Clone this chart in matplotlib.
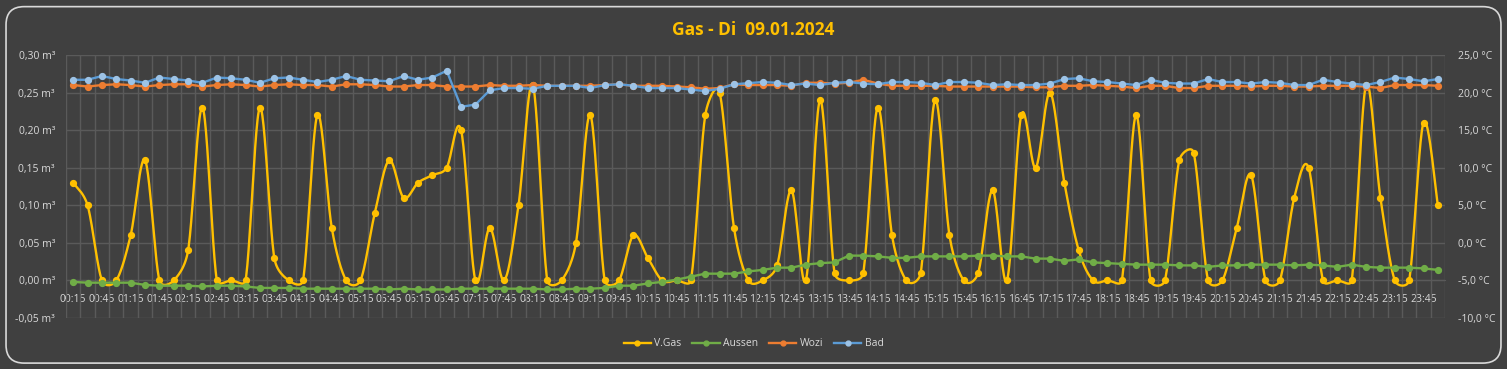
import numpy as np
import matplotlib.pyplot as plt
from matplotlib.patches import FancyBboxPatch
from matplotlib.lines import Line2D

# categories: 00:15 ... 24:00 in 15 minute steps
times = [f"{(15 * (i + 1)) // 60 % 24:02d}:{(15 * (i + 1)) % 60:02d}" for i in range(96)]

gas = [0.13, 0.10, 0.00, 0.00, 0.06, 0.16, 0.00, 0.00, 0.04, 0.23,
       0.00, 0.00, 0.00, 0.23, 0.03, 0.00, 0.00, 0.22, 0.07, 0.00,
       0.00, 0.09, 0.16, 0.11, 0.13, 0.14, 0.15, 0.20, 0.00, 0.07,
       0.00, 0.10, 0.26, 0.00, 0.00, 0.05, 0.22, 0.00, 0.00, 0.06,
       0.03, 0.00, 0.00, 0.00, 0.22, 0.25, 0.07, 0.00, 0.00, 0.02,
       0.12, 0.00, 0.24, 0.01, 0.00, 0.01, 0.23, 0.06, 0.00, 0.01,
       0.24, 0.06, 0.00, 0.01, 0.12, 0.00, 0.22, 0.15, 0.25, 0.13,
       0.04, 0.00, 0.00, 0.00, 0.22, 0.00, 0.00, 0.16, 0.17, 0.00,
       0.00, 0.07, 0.14, 0.00, 0.00, 0.11, 0.15, 0.00, 0.00, 0.00,
       0.26, 0.11, 0.00, 0.00, 0.21, 0.10]

aussen = [-5.2, -5.3, -5.3, -5.3, -5.3, -5.6, -5.7, -5.7, -5.7, -5.8,
          -5.7, -5.7, -5.8, -6.0, -6.0, -6.0, -6.1, -6.1, -6.1, -6.1,
          -6.1, -6.1, -6.2, -6.1, -6.2, -6.2, -6.2, -6.1, -6.1, -6.1,
          -6.1, -6.1, -6.1, -6.2, -6.2, -6.1, -6.1, -6.0, -5.7, -5.7,
          -5.4, -5.2, -4.9, -4.5, -4.1, -4.1, -4.1, -3.8, -3.6, -3.3,
          -3.3, -2.9, -2.7, -2.6, -1.7, -1.7, -1.8, -2.0, -2.0, -1.8,
          -1.8, -1.8, -1.8, -1.7, -1.7, -1.8, -1.8, -2.1, -2.1, -2.4,
          -2.2, -2.6, -2.7, -2.8, -2.9, -2.9, -2.9, -3.0, -3.0, -3.2,
          -3.0, -3.0, -2.9, -2.9, -2.9, -3.0, -2.9, -3.0, -3.2, -2.9,
          -3.2, -3.3, -3.3, -3.3, -3.4, -3.6]

wozi = [21.0, 20.8, 21.0, 21.1, 21.0, 20.8, 21.0, 21.1, 21.1, 20.8,
        21.0, 21.1, 21.0, 20.8, 21.0, 21.1, 21.0, 21.0, 20.8, 21.1,
        21.1, 21.0, 20.8, 20.8, 21.0, 21.0, 20.8, 20.8, 20.8, 21.0,
        20.9, 20.9, 21.0, 20.9, 20.9, 20.9, 20.9, 21.0, 21.1, 20.9,
        20.9, 20.9, 20.8, 20.7, 20.5, 20.6, 21.1, 21.0, 21.0, 21.0,
        20.9, 21.3, 21.3, 21.2, 21.3, 21.7, 21.2, 20.9, 20.9, 20.9,
        20.9, 20.8, 20.8, 20.8, 20.8, 20.8, 20.8, 20.7, 20.7, 20.9,
        20.9, 21.0, 20.9, 20.8, 20.6, 20.9, 20.9, 20.6, 20.6, 20.9,
        20.9, 20.9, 20.8, 20.9, 20.9, 20.8, 20.8, 20.9, 20.9, 20.9,
        20.8, 20.6, 21.0, 21.0, 21.0, 20.9]

bad = [21.7, 21.7, 22.2, 21.8, 21.6, 21.3, 22.0, 21.8, 21.6, 21.3,
       22.0, 21.9, 21.7, 21.3, 21.9, 22.0, 21.7, 21.4, 21.7, 22.2,
       21.7, 21.6, 21.5, 22.2, 21.7, 22.0, 22.9, 18.1, 18.4, 20.3,
       20.6, 20.6, 20.5, 20.9, 20.9, 20.9, 20.6, 21.0, 21.1, 20.9,
       20.6, 20.6, 20.6, 20.4, 20.2, 20.5, 21.1, 21.25, 21.4, 21.3,
       21.0, 21.2, 21.0, 21.3, 21.4, 21.2, 21.1, 21.4, 21.4, 21.3,
       21.0, 21.4, 21.4, 21.3, 21.0, 21.1, 21.0, 21.0, 21.2, 21.8,
       21.9, 21.5, 21.4, 21.2, 21.0, 21.7, 21.3, 21.2, 21.2, 21.8,
       21.4, 21.4, 21.2, 21.4, 21.3, 21.0, 21.0, 21.7, 21.4, 21.2,
       21.0, 21.4, 22.0, 21.8, 21.5, 21.8]

left_ticks = [-0.05, 0.00, 0.05, 0.10, 0.15, 0.20, 0.25, 0.30]
left_labels = ["-0,05 m³", "0,00 m³", "0,05 m³", "0,10 m³", "0,15 m³", "0,20 m³", "0,25 m³", "0,30 m³"]
right_ticks = [-10, -5, 0, 5, 10, 15, 20, 25]
right_labels = ["-10,0 °C", "-5,0 °C", "0,0 °C", "5,0 °C", "10,0 °C", "15,0 °C", "20,0 °C", "25,0 °C"]

BG = "#404040"
GRID = "#5a5a5a"
TXT = "#d9d9d9"

plt.rcParams['font.family'] = ['Open Sans', 'DejaVu Sans']


def smooth(ax, y, n=24):
    # Excel-style smoothed line: bezier with handles min(|P2-P0|/6, |P1P2|/2), in pixel space
    pts = ax.transData.transform(np.column_stack([np.arange(len(y)), y]))
    p = np.vstack([pts[:1], pts, pts[-1:]])
    t = np.linspace(0, 1, n, endpoint=False)[:, None]
    out = []
    for i in range(len(pts) - 1):
        p0, p1, p2, p3 = p[i], p[i + 1], p[i + 2], p[i + 3]
        d12 = np.hypot(*(p2 - p1))
        d02 = np.hypot(*(p2 - p0))
        d13 = np.hypot(*(p3 - p1))
        f1 = 1 / 6 if d02 / 6 < d12 / 2 else d12 / (2 * d02)
        f2 = 1 / 6 if d13 / 6 < d12 / 2 else d12 / (2 * d13)
        c1 = p1 + f1 * (p2 - p0)
        c2 = p2 - f2 * (p3 - p1)
        seg = (1 - t) ** 3 * p1 + 3 * (1 - t) ** 2 * t * c1 + 3 * (1 - t) * t ** 2 * c2 + t ** 3 * p2
        out.append(seg)
    out.append(pts[-1:])
    data = ax.transData.inverted().transform(np.vstack(out))
    return data[:, 0], data[:, 1]


fig = plt.figure(figsize=(15.07, 3.69), dpi=100, facecolor=BG)
ax = fig.add_axes([0.0438, 0.1382, 0.9151, 0.7128])
ax.set_facecolor(BG)

x = np.arange(len(times))
ax.set_xlim(-0.5, len(times) - 0.5)
ax.set_ylim(-0.05, 0.30)

sx, sy = smooth(ax, gas)
ax.plot(sx, sy, color="#ffc000", lw=1.7, zorder=3)
ax.plot(x, gas, ls="none", marker="o", ms=4.2, color="#ffc000", zorder=3)

ax.set_yticks(left_ticks)
ax.set_yticklabels(left_labels)
ax.set_xticks(x[::2])
ax.set_xticklabels(times[::2])
ax.set_xticks(np.arange(len(times) + 1) - 0.5, minor=True)
ax.grid(True, axis="y", which="major", color=GRID, lw=1)
ax.grid(True, axis="x", which="minor", color=GRID, lw=1)
ax.grid(False, axis="x", which="major")
ax.set_axisbelow(True)
for s in ["top", "right", "left"]:
    ax.spines[s].set_visible(False)
ax.spines["bottom"].set_position(("data", 0))
ax.spines["bottom"].set_color(GRID)
ax.tick_params(axis="x", which="both", length=0, pad=9.5, labelsize=7.5, colors=TXT)
ax.tick_params(axis="y", length=0, pad=8, labelsize=7.5, colors=TXT)

ax2 = ax.twinx()
ax2.set_ylim(-10, 25)
ax2.set_yticks(right_ticks)
ax2.set_yticklabels(right_labels)
ax2.tick_params(axis="y", length=0, pad=9, labelsize=7.5, colors=TXT)
for s in ax2.spines.values():
    s.set_visible(False)
ax2.plot(x, aussen, color="#70ad47", lw=1.7, marker="o", ms=4.2)
ax2.plot(x, wozi, color="#ed7d31", lw=1.7, marker="o", ms=4.2)
ax2.plot(x, bad, color="#5b9bd5", lw=1.7, marker="o", ms=4.2, mfc="#9dc3e6", mec="#9dc3e6")

fig.text(0.5, 0.92, "Gas - Di  09.01.2024", ha="center", va="center",
         fontsize=12.5, fontweight="bold", color="#ffc000")

handles = [
    Line2D([], [], color="#ffc000", lw=1.7, marker="o", ms=3.5),
    Line2D([], [], color="#70ad47", lw=1.7, marker="o", ms=3.5),
    Line2D([], [], color="#ed7d31", lw=1.7, marker="o", ms=3.5),
    Line2D([], [], color="#5b9bd5", lw=1.7, marker="o", ms=3.5, mfc="#9dc3e6", mec="#9dc3e6"),
]
fig.legend(handles, ["V.Gas", "Aussen", "Wozi", "Bad"], loc="center", bbox_to_anchor=(0.5, 0.068),
           ncol=4, frameon=False, fontsize=7.5, labelcolor=TXT, handlelength=2.6,
           handletextpad=0.3, columnspacing=1.1)

border = FancyBboxPatch((0.004, 0.016), 0.992, 0.966, boxstyle="round,pad=0,rounding_size=0.012",
                        transform=fig.transFigure, fill=False, ec="#d9d9d9", lw=1.2,
                        mutation_aspect=1507 / 369)
fig.patches.append(border)

fig.savefig("out.png", dpi=100, facecolor=BG)
